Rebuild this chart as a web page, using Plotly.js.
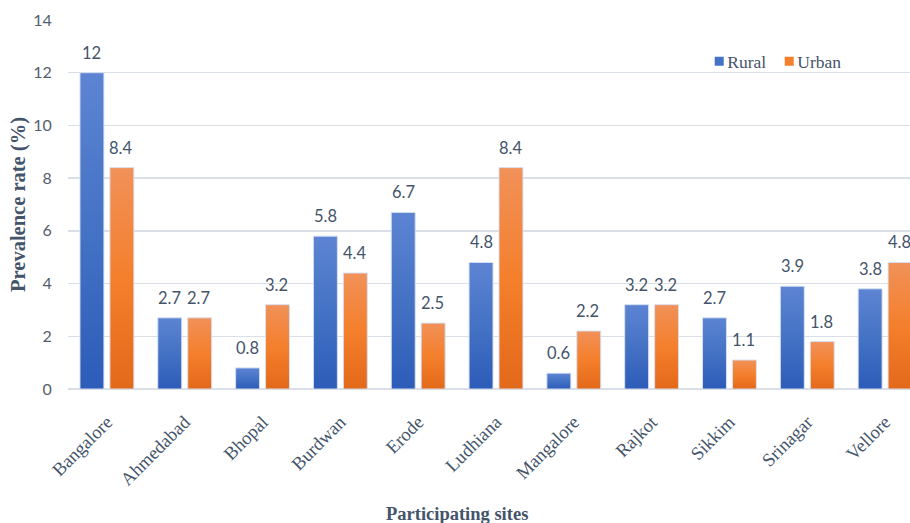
<!DOCTYPE html>
<html>
<head>
<meta charset="utf-8">
<script src="https://cdn.plot.ly/plotly-3.0.1.min.js"></script>
<style>
  html, body { margin: 0; padding: 0; background: #ffffff; overflow: hidden; }
  #chart { width: 930px; height: 523px; }
</style>
</head>
<body>
<div id="chart"></div>
<script>
// Prevalence rate (%) by participating site, rural vs urban
const sites = ['Bangalore', 'Ahmedabad', 'Bhopal', 'Burdwan', 'Erode', 'Ludhiana',
               'Mangalore', 'Rajkot', 'Sikkim', 'Srinagar', 'Vellore'];
const rural = [12, 2.7, 0.8, 5.8, 6.7, 4.8, 0.6, 3.2, 2.7, 3.9, 3.8];
const urban = [8.4, 2.7, 3.2, 4.4, 2.5, 8.4, 2.2, 3.2, 1.1, 1.8, 4.8];
const yTicks = [0, 2, 4, 6, 8, 10, 12, 14];

const serif = '"Liberation Serif", "Times New Roman", serif';
const sans = 'Lato, "Open Sans", sans-serif';
const textGrey = '#44546a';
const gridGrey = '#d9dee7';

const barLine = { color: 'rgba(214,224,242,0.95)', width: 1 };

const traces = [
  { type: 'bar', name: 'Rural', x: sites, y: rural,
    marker: { color: '#4472c4', line: barLine }, hoverinfo: 'x+y' },
  { type: 'bar', name: 'Urban', x: sites, y: urban,
    marker: { color: '#ed7d31', line: barLine }, hoverinfo: 'x+y' }
];

// value labels above each bar, offset to sit over the rural / urban bar
const annotations = [];
[[rural, -15], [urban, 14]].forEach(([vals, dx]) => {
  vals.forEach((v, i) => {
    annotations.push({
      x: sites[i], y: v, xref: 'x', yref: 'y', text: String(v),
      showarrow: false, xshift: dx, yshift: 20, yanchor: 'middle',
      font: { family: sans, size: 16.5, color: textGrey }
    });
  });
});
annotations.push({
  text: '<b>Participating sites</b>', xref: 'paper', yref: 'paper',
  x: 0.4544, y: -0.34, xanchor: 'center', yanchor: 'middle', showarrow: false,
  font: { family: serif, size: 18.5, color: textGrey }
});

const layout = {
  width: 930, height: 523,
  margin: { l: 68, r: 6, t: 20, b: 134 },
  paper_bgcolor: '#ffffff', plot_bgcolor: '#ffffff',
  barmode: 'group', bargap: 0.2308, bargroupgap: 0.2,
  showlegend: true,
  legend: {
    orientation: 'h', x: 0.7234, y: 0.888, xanchor: 'left', yanchor: 'middle',
    font: { family: serif, size: 17.5, color: textGrey },
    itemwidth: 30, bgcolor: 'rgba(0,0,0,0)'
  },
  xaxis: {
    type: 'category', tickangle: -45,
    tickfont: { family: serif, size: 18.5, color: textGrey },
    ticks: 'outside', ticklen: 14, tickcolor: 'rgba(0,0,0,0)',
    showgrid: false, showline: false, zeroline: false
  },
  yaxis: {
    range: [0, 14], tickvals: yTicks, ticktext: yTicks.map(String),
    tickfont: { family: sans, size: 16, color: '#545d6d' },
    ticks: 'outside', ticklen: 12, tickcolor: 'rgba(0,0,0,0)',
    showgrid: true, gridcolor: gridGrey, gridwidth: 1.3,
    zeroline: true, zerolinecolor: gridGrey, zerolinewidth: 1.3,
    showline: false,
    title: { text: '<b>Prevalence rate (%)</b>', standoff: 2,
             font: { family: serif, size: 20.5, color: textGrey } }
  },
  annotations: annotations
};

function shiftTranslate(el, dx) {
  const t = el.getAttribute('transform') || '';
  const m = t.match(/translate\(\s*([-\d.e]+)[ ,]*([-\d.e]*)\s*\)/);
  const tx = m ? parseFloat(m[1]) : 0;
  const ty = m && m[2] ? parseFloat(m[2]) : 0;
  el.setAttribute('transform', 'translate(' + (tx + dx) + ',' + ty + ')');
}

const gd = document.getElementById('chart');
Plotly.newPlot(gd, traces, layout, { displayModeBar: false, staticPlot: true }).then(() => {
  // vertical light-to-dark gradient fills for the bars
  const ns = 'http://www.w3.org/2000/svg';
  const svg = gd.querySelector('svg.main-svg');
  let defs = svg.querySelector('defs');
  if (!defs) { defs = document.createElementNS(ns, 'defs'); svg.insertBefore(defs, svg.firstChild); }
  const ramps = [
    ['gradRural', [['0%', '#5d84d3'], ['50%', '#4472c4'], ['100%', '#2d5cb9']]],
    ['gradUrban', [['0%', '#f19159'], ['50%', '#f47f2c'], ['100%', '#e3691a']]]
  ];
  ramps.forEach(([id, stops]) => {
    const g = document.createElementNS(ns, 'linearGradient');
    g.setAttribute('id', id);
    g.setAttribute('x1', '0'); g.setAttribute('y1', '0');
    g.setAttribute('x2', '0'); g.setAttribute('y2', '1');
    stops.forEach(([off, col]) => {
      const s = document.createElementNS(ns, 'stop');
      s.setAttribute('offset', off); s.setAttribute('stop-color', col);
      g.appendChild(s);
    });
    defs.appendChild(g);
  });
  gd.querySelectorAll('.barlayer .trace').forEach((tr, i) => {
    tr.querySelectorAll('path').forEach(p => { p.style.fill = 'url(#' + ramps[i][0] + ')'; });
  });

  // compact legend: small square swatches sitting right next to their labels
  const itemShift = [0, -14];
  gd.querySelectorAll('.legend .traces').forEach((tr, i) => {
    shiftTranslate(tr, itemShift[i] || 0);
    const pts = tr.querySelector('.legendpoints');
    if (pts) shiftTranslate(pts, 12);
    tr.querySelectorAll('.legendpoints path').forEach(p => {
      p.style.fill = ramps[i][1][1][1];
      p.style.stroke = 'none';
      p.setAttribute('d', 'M4.5,4.5H-4.5V-4.5H4.5Z');
    });
  });
});
</script>
</body>
</html>
